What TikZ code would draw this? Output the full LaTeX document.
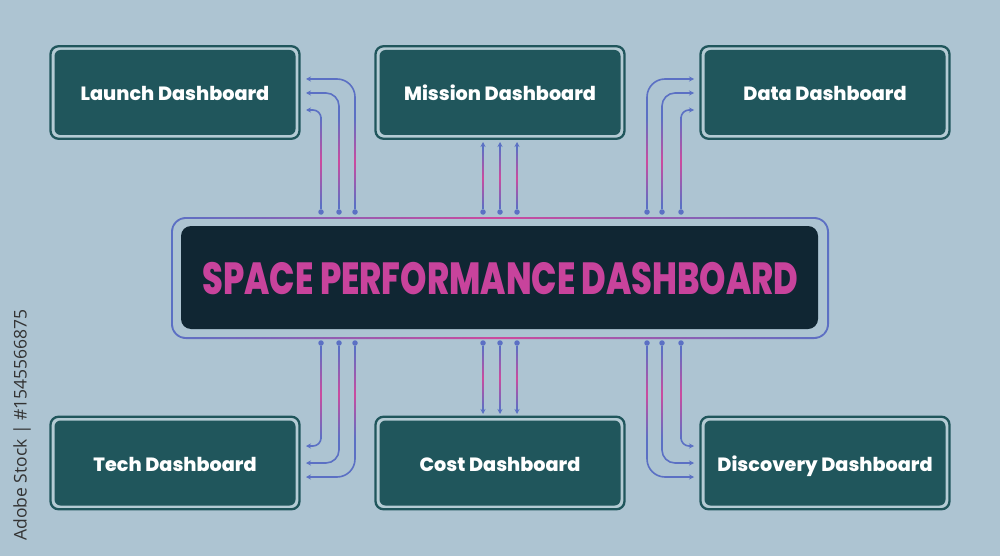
\documentclass[tikz,border=0pt]{standalone}
\usepackage{fontspec}
\setmainfont{Poppins}
\newfontfamily\heavy{Poppins ExtraBold}
\newfontfamily\sidefont{Open Sans}
\usetikzlibrary{arrows.meta,calc}
\definecolor{bgc}{HTML}{ADC4D2}
\definecolor{boxc}{HTML}{20565C}
\definecolor{ringc}{HTML}{B4CBD4}
\definecolor{linkc}{HTML}{5B70C4}
\definecolor{pinkc}{HTML}{CC4A9E}
\definecolor{darkc}{HTML}{102633}
\definecolor{titlec}{HTML}{C8439C}
\tikzset{x=1pt,y=-1pt,
 panel/.style={draw=boxc,line width=2.3pt,fill=ringc,rounded corners=8pt,minimum width=249pt,minimum height=92.5pt,inner sep=0pt},
 panelin/.style={fill=boxc,rounded corners=6pt,minimum width=241pt,minimum height=85pt,inner sep=0pt,text=white,text height=16pt,text depth=0pt,font=\heavy\fontsize{19.2}{21}\selectfont},
 link/.style={draw=linkc,line width=1.6pt,-{Stealth[length=5pt,width=5pt]}},
 inner link/.style={link,rounded corners=8pt},
 mid link/.style={link,rounded corners=13pt},
 outer link/.style={link,rounded corners=18pt},
 dotc/.style={circle,fill=linkc,inner sep=0pt,minimum size=5.5pt},
 glow/.style={top color=linkc,bottom color=linkc,middle color=pinkc,draw=none},
}
\newcommand{\glowbar}[3]{\shade[glow] (#1-0.8,#2) rectangle (#1+0.8,#3);}
\begin{document}
\begin{tikzpicture}
\useasboundingbox (0,0) rectangle (1000,556);
\fill[bgc] (0,0) rectangle (1000,556);
\foreach \n/\cx/\cy in {launch/175/92.5,mission/500/92.5,data/825/92.5,tech/175/463,cost/500/463,discovery/825/463}{
 \node[panel] (\n-o) at (\cx,\cy) {};
}
\node[panelin] (launch) at (launch-o) {Launch Dashboard};
\node[panelin] (mission) at (mission-o) {Mission Dashboard};
\node[panelin] (data) at (data-o) {Data Dashboard};
\node[panelin] (tech) at (tech-o) {Tech Dashboard};
\node[panelin] (cost) at (cost-o) {Cost Dashboard};
\node[panelin] (discovery) at (discovery-o) {Discovery Dashboard};
% centre
\shade[even odd rule,left color=linkc,right color=linkc,middle color=pinkc]
 [rounded corners=15pt] (171,217) rectangle (829,339)
 [rounded corners=13pt] (172.8,218.8) rectangle (827.2,337.2);
\node[fill=darkc,rounded corners=10pt,minimum width=637pt,minimum height=103pt,inner sep=0pt] (hub) at (499.5,277.5) {};
\node[text=titlec,inner sep=0pt,xscale=.745,text height=32pt,text depth=0pt] (title) at (500.5,278.5) {\heavy\fontsize{45}{48}\selectfont SPACE PERFORMANCE DASHBOARD};
% dots
\foreach \x/\y/\n in {321/212/a,339/212/b,355/212/c,483/212/d,500/212/e,517/212/f,647/212/g,662/212/h,681/212/i,
                      321/343/j,339/343/k,355/343/l,483/343/m,500/343/n,517/343/o,647/343/p,662/343/q,681/343/r}
 \node[dotc] (d\n) at (\x,\y) {};
\foreach \n/\x/\y in {la/306/110,lb/306/93,lc/306/79,ta/306/446,tb/306/463,tc/306/477,
                      ga/694/110,gb/694/93,gc/694/79,va/694/446,vb/694/463,vc/694/477,
                      md/483/142,me/500/142,mf/517/142,cm/483/414,cn/500/414,co/517/414}
 \coordinate (e\n) at (\x,\y);
\draw[inner link] (da) |- (ela);
\draw[mid link] (db) |- (elb);
\draw[outer link] (dc) |- (elc);
\draw[link] (dd) -- (emd);
\draw[link] (de) -- (eme);
\draw[link] (df) -- (emf);
\draw[outer link] (dg) |- (egc);
\draw[mid link] (dh) |- (egb);
\draw[inner link] (di) |- (ega);
\draw[inner link] (dj) |- (eta);
\draw[mid link] (dk) |- (etb);
\draw[outer link] (dl) |- (etc);
\draw[link] (dm) -- (ecm);
\draw[link] (dn) -- (ecn);
\draw[link] (do) -- (eco);
\draw[outer link] (dp) |- (evc);
\draw[mid link] (dq) |- (evb);
\draw[inner link] (dr) |- (eva);
\foreach \x in {321,339,355,647,662,681}{\glowbar{\x}{118}{205}\glowbar{\x}{350}{438}}
\foreach \x in {483,500,517}{\glowbar{\x}{148}{208}\glowbar{\x}{347}{409}}
% side mark
\node[rotate=90,text=black!80,font=\sidefont\fontsize{17.5}{20}\selectfont,inner sep=0pt] (stock) at (22,425) {Adobe Stock | \#1545566875};
\end{tikzpicture}
\end{document}
